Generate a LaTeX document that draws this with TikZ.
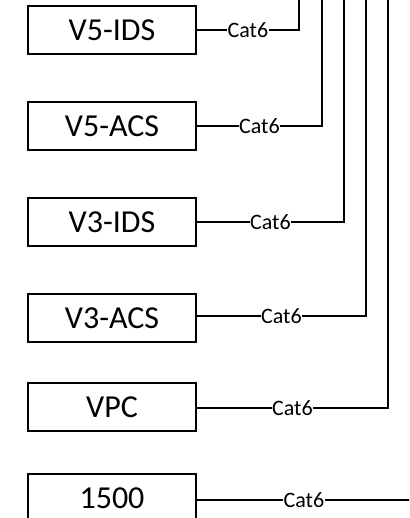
\documentclass[tikz,border=0pt]{standalone}
\usepackage{fontspec}
\setmainfont{Carlito}
\begin{document}
\begin{tikzpicture}[x=1pt,y=-1pt,
  devbox/.style={draw,line width=1.7pt,minimum width=168pt,minimum height=48pt,inner sep=0pt,font=\fontsize{32}{34}\selectfont},
  wire/.style={line width=1.7pt},
  cablelbl/.style={fill=white,inner sep=0.6pt,font=\fontsize{22}{24}\selectfont}]
\useasboundingbox (0,0) rectangle (409,518);
\clip (0,0) rectangle (409,518);
\node[devbox] (v5ids) at (112,30) {V5-IDS};
\node[devbox] (v5acs) at (112,126) {V5-ACS};
\node[devbox] (v3ids) at (112,222) {V3-IDS};
\node[devbox] (v3acs) at (112,318) {V3-ACS};
\node[devbox] (vpc) at (112,407) {VPC};
\node[devbox] (n1500) at (112,498) {1500};
\coordinate (c1) at (299,30);  \coordinate (t1) at (299,-5);
\coordinate (c2) at (322,126); \coordinate (t2) at (322,-5);
\coordinate (c3) at (344,222); \coordinate (t3) at (344,-5);
\coordinate (c4) at (366,316); \coordinate (t4) at (366,-5);
\coordinate (c5) at (388,408); \coordinate (t5) at (388,-5);
\coordinate (e6) at (411,500);
\draw[wire] (v5ids.east) -- node[cablelbl]{Cat6} (c1) -- (t1);
\draw[wire] (v5acs.east) -- node[cablelbl]{Cat6} (c2) -- (t2);
\draw[wire] (v3ids.east) -- node[cablelbl]{Cat6} (c3) -- (t3);
\draw[wire] (v3acs.east |- c4) -- node[cablelbl]{Cat6} (c4) -- (t4);
\draw[wire] (vpc.east |- c5) -- node[cablelbl]{Cat6} (c5) -- (t5);
\draw[wire] (n1500.east |- e6) -- node[cablelbl]{Cat6} (e6);
\end{tikzpicture}
\end{document}
